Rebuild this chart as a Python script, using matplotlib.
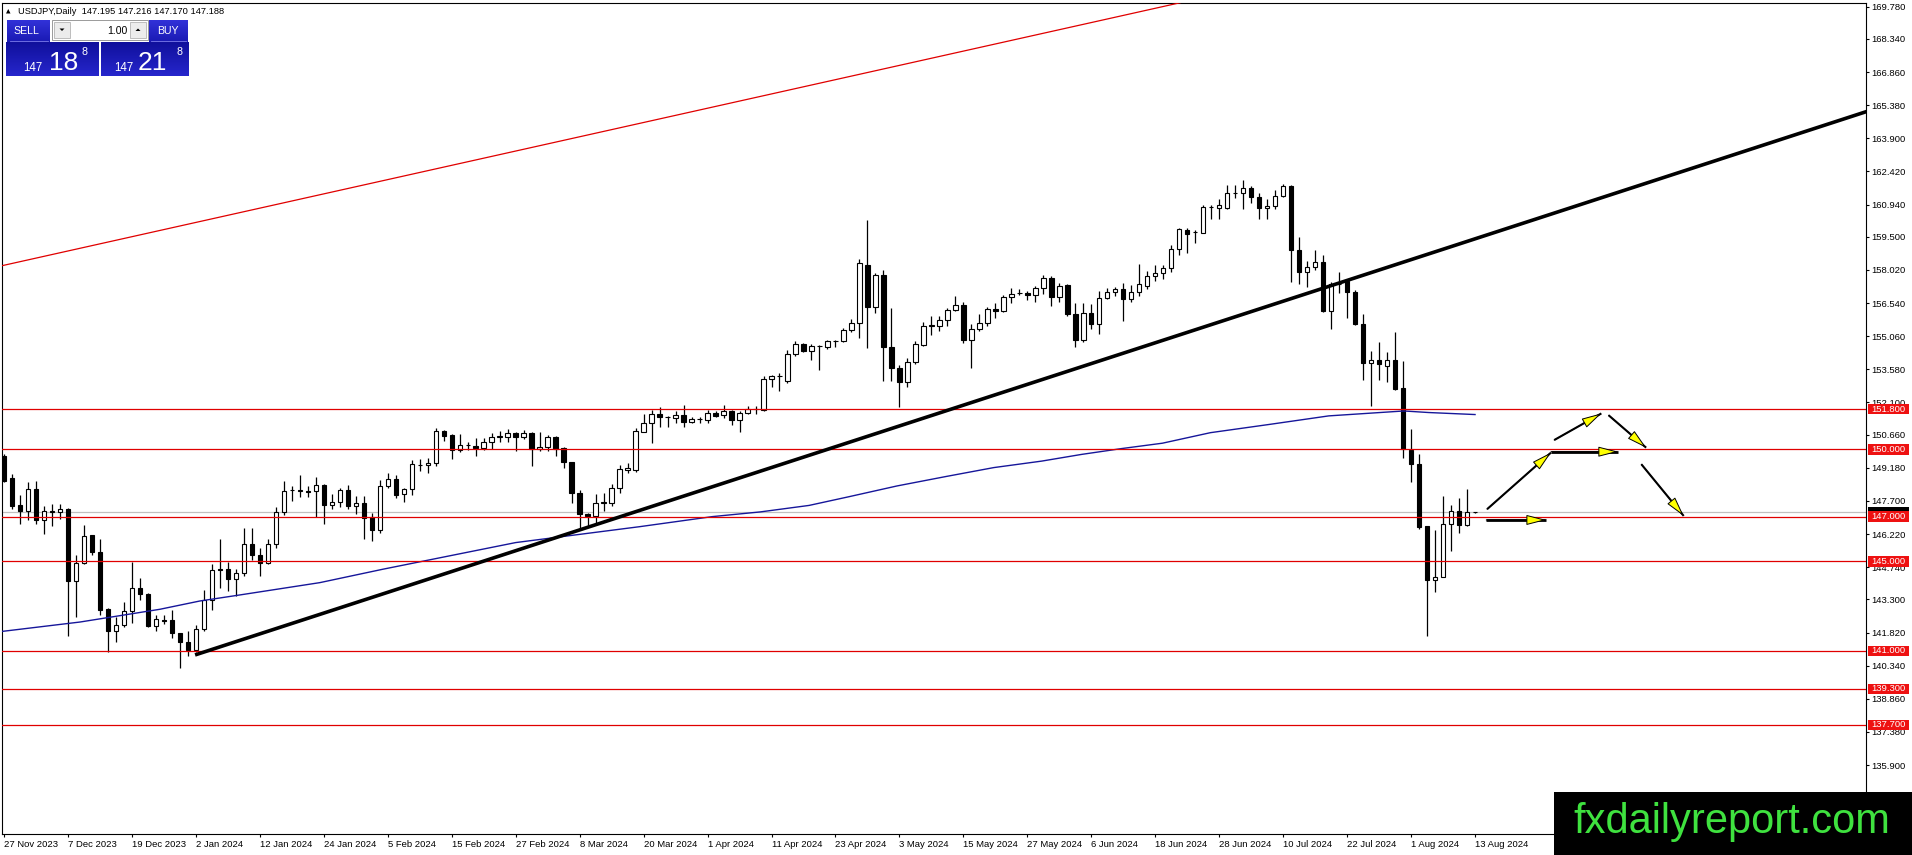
import numpy as np
import matplotlib
matplotlib.use('Agg')
import matplotlib.pyplot as plt
from matplotlib.patches import Rectangle, Polygon, FancyArrowPatch
from matplotlib.transforms import blended_transform_factory
from matplotlib.colors import LinearSegmentedColormap

plt.rcParams['font.family'] = ['Liberation Sans', 'DejaVu Sans']

W, H = 1912, 855

# daily bars, 27 Nov 2023 .. 13 Aug 2024
opens = [
    149.73, 148.71, 147.51, 147.26, 148.22, 146.84, 147.20, 147.19, 147.34, 144.12,
    144.94, 146.17, 145.43, 142.89, 141.87, 142.17, 142.77, 143.82, 143.56, 142.10,
    142.40, 142.40, 141.80, 141.39, 141.05, 141.98, 143.26, 144.65, 144.67, 144.22,
    144.49, 145.76, 145.30, 144.94, 145.76, 147.19, 148.18, 148.15, 148.15, 148.14,
    148.40, 147.51, 147.67, 148.18, 147.48, 147.63, 147.00, 146.40, 148.37, 148.70,
    148.00, 148.22, 149.31, 149.30, 149.39, 150.81, 150.64, 149.97, 150.20, 150.15,
    150.06, 150.33, 150.55, 150.55, 150.75, 150.55, 150.73, 150.03, 150.10, 150.55,
    150.06, 149.43, 148.07, 147.10, 147.03, 147.63, 147.63, 148.30, 149.10, 149.08,
    150.80, 151.17, 151.58, 151.45, 151.40, 151.52, 151.22, 151.34, 151.30, 151.62,
    151.52, 151.70, 151.32, 151.62, 151.80, 151.77, 153.14, 153.30, 153.04, 154.28,
    154.71, 154.38, 154.63, 154.60, 154.83, 154.83, 155.32, 155.65, 158.26, 156.35,
    157.81, 154.58, 153.64, 153.00, 153.89, 154.68, 155.52, 155.50, 155.77, 156.23,
    156.44, 154.89, 155.40, 155.63, 156.29, 156.19, 156.83, 156.98, 157.00, 156.90,
    157.20, 157.68, 156.83, 157.33, 156.07, 154.89, 156.11, 155.62, 156.78, 157.05,
    157.15, 156.74, 157.05, 157.30, 157.75, 157.90, 158.12, 158.97, 159.79, 159.70,
    159.69, 160.84, 160.81, 160.81, 161.48, 161.48, 161.70, 161.28, 160.78, 160.87,
    161.34, 161.76, 158.91, 157.94, 158.13, 158.39, 156.19, 157.40, 157.54, 157.04,
    155.60, 153.88, 153.99, 153.73, 154.00, 152.76, 149.97, 149.37, 146.57, 144.15,
    144.30, 146.67, 147.24, 146.61, 147.195]
highs = [
    149.80, 148.90, 147.96, 148.56, 148.60, 147.48, 147.56, 147.56, 147.40, 145.27,
    146.62, 146.20, 145.99, 142.92, 142.50, 143.19, 144.97, 144.24, 143.60, 142.62,
    142.62, 142.84, 141.82, 141.90, 142.17, 143.74, 144.87, 146.02, 144.97, 144.67,
    146.47, 146.47, 145.61, 145.99, 147.41, 148.61, 148.38, 148.86, 148.38, 148.76,
    148.45, 148.00, 148.30, 148.40, 147.93, 147.93, 147.18, 148.64, 148.94, 148.85,
    148.30, 149.52, 149.57, 149.60, 150.96, 150.88, 150.68, 150.70, 150.33, 150.49,
    150.51, 150.73, 150.82, 150.93, 150.78, 150.88, 150.76, 150.76, 150.64, 150.58,
    150.09, 149.45, 148.19, 147.18, 148.03, 148.04, 148.45, 149.30, 149.39, 150.94,
    151.59, 151.77, 151.89, 151.50, 151.70, 151.99, 151.47, 151.47, 151.77, 151.70,
    151.99, 151.77, 151.70, 151.95, 151.92, 153.26, 153.34, 153.41, 154.46, 154.83,
    154.76, 154.71, 154.68, 154.87, 154.90, 155.43, 155.83, 158.49, 160.23, 157.89,
    158.04, 156.32, 153.79, 154.08, 154.83, 155.68, 155.95, 155.95, 156.32, 156.86,
    156.60, 155.59, 156.04, 156.38, 156.53, 156.89, 157.23, 157.18, 157.08, 157.30,
    157.78, 157.75, 157.42, 157.38, 156.53, 156.53, 156.48, 157.08, 157.23, 157.27,
    157.45, 157.33, 158.30, 157.97, 158.23, 158.23, 159.12, 159.91, 159.91, 159.79,
    160.91, 160.91, 161.18, 161.82, 161.82, 162.03, 161.75, 161.45, 161.19, 161.57,
    161.87, 161.82, 159.48, 158.43, 158.91, 158.69, 157.49, 157.91, 157.61, 157.13,
    156.04, 154.40, 154.78, 154.36, 155.27, 153.93, 150.93, 149.81, 146.60, 146.39,
    147.94, 147.54, 147.84, 148.25, 147.216]
lows = [
    148.53, 147.33, 146.69, 146.86, 146.66, 146.24, 146.59, 146.90, 141.65, 142.50,
    144.87, 145.30, 142.62, 140.97, 141.42, 142.07, 142.25, 143.29, 142.07, 141.87,
    142.20, 141.57, 140.22, 140.78, 140.97, 141.87, 142.84, 143.82, 143.67, 143.44,
    144.34, 145.06, 144.34, 144.87, 145.61, 147.07, 147.70, 147.86, 147.86, 147.00,
    146.66, 147.33, 147.45, 147.33, 147.10, 146.01, 145.91, 146.28, 148.30, 147.85,
    147.66, 147.97, 149.06, 148.97, 149.27, 150.39, 149.57, 149.87, 149.96, 149.72,
    149.96, 150.03, 150.33, 150.33, 149.91, 150.45, 149.25, 149.91, 149.91, 149.72,
    149.15, 147.63, 146.43, 146.58, 146.66, 147.25, 147.48, 148.04, 148.94, 149.00,
    150.76, 150.28, 151.00, 151.02, 151.17, 151.02, 151.17, 151.17, 151.17, 151.44,
    151.40, 151.10, 150.80, 151.59, 151.59, 151.70, 152.78, 152.59, 152.99, 154.16,
    154.34, 153.98, 153.56, 154.49, 154.58, 154.79, 155.23, 154.98, 154.53, 156.10,
    153.04, 153.04, 151.89, 152.81, 153.83, 154.61, 155.13, 155.28, 155.53, 156.19,
    154.74, 153.62, 155.29, 155.52, 155.89, 156.14, 156.56, 156.89, 156.68, 156.59,
    156.93, 156.41, 156.59, 155.96, 154.58, 154.80, 155.40, 155.17, 156.74, 156.86,
    155.74, 156.59, 156.86, 157.19, 157.53, 157.63, 157.93, 158.67, 158.79, 159.24,
    159.66, 160.28, 160.28, 160.73, 161.25, 160.76, 160.99, 160.31, 160.30, 160.75,
    161.27, 157.46, 157.39, 157.24, 158.03, 156.12, 155.40, 156.99, 155.88, 155.55,
    153.10, 151.94, 153.10, 153.01, 152.66, 149.63, 148.54, 146.46, 141.67, 143.61,
    144.30, 145.45, 146.27, 146.57, 147.170]
closes = [
    148.60, 147.48, 147.26, 148.22, 146.84, 147.25, 147.27, 147.34, 144.12, 144.94,
    146.14, 145.42, 142.84, 141.87, 142.17, 142.77, 143.82, 143.56, 142.10, 142.43,
    142.35, 141.80, 141.39, 141.05, 141.98, 143.26, 144.61, 144.60, 144.22, 144.49,
    145.76, 145.27, 144.94, 145.76, 147.19, 148.16, 148.17, 148.17, 148.12, 148.40,
    147.51, 147.67, 148.19, 147.48, 147.63, 146.96, 146.40, 148.37, 148.70, 147.96,
    148.22, 149.33, 149.29, 149.39, 150.81, 150.61, 149.97, 150.21, 150.18, 150.06,
    150.33, 150.55, 150.58, 150.73, 150.55, 150.73, 150.03, 150.13, 150.55, 150.03,
    149.43, 148.07, 147.10, 147.03, 147.63, 147.66, 148.30, 149.12, 149.15, 150.84,
    151.17, 151.59, 151.44, 151.43, 151.55, 151.22, 151.35, 151.35, 151.62, 151.50,
    151.70, 151.30, 151.62, 151.81, 151.82, 153.14, 153.29, 153.29, 154.28, 154.71,
    154.38, 154.64, 154.64, 154.83, 154.84, 155.32, 155.65, 158.34, 156.35, 157.81,
    154.58, 153.64, 153.00, 153.89, 154.73, 155.53, 155.54, 155.80, 156.22, 156.44,
    154.89, 155.40, 155.66, 156.29, 156.19, 156.83, 156.96, 156.97, 156.89, 157.20,
    157.68, 156.83, 157.30, 156.04, 154.89, 156.11, 155.62, 156.78, 157.05, 157.15,
    156.74, 157.05, 157.41, 157.75, 157.90, 158.12, 158.97, 159.84, 159.64, 159.72,
    160.85, 160.83, 160.91, 161.48, 161.47, 161.70, 161.28, 160.81, 160.87, 161.34,
    161.76, 158.91, 157.94, 158.13, 158.39, 156.19, 157.39, 157.39, 157.04, 155.60,
    153.88, 153.99, 153.81, 154.00, 152.72, 150.00, 149.36, 146.52, 144.15, 144.30,
    146.67, 147.24, 146.61, 147.21, 147.188]

# moving average, sampled along the blue curve (bar index, price)
ma_x = [-0.5, 9.5, 19.5, 24.5, 29.5, 39.5, 47.4, 64.0, 79.5, 88.6, 94.6, 100.7,
        105.7, 111.7, 117.8, 123.8, 129.8, 134.8, 139.8, 144.9, 150.9, 158.3,
        165.7, 175.1, 178.2, 184.0]
ma_y = [141.86, 142.29, 142.86, 143.23, 143.50, 144.05, 144.65, 145.84, 146.55,
        147.00, 147.21, 147.50, 147.89, 148.37, 148.79, 149.19, 149.48, 149.78,
        150.04, 150.28, 150.75, 151.12, 151.50, 151.72, 151.65, 151.56]

date_idx = list(range(0, 185, 8))
date_labels = ['27 Nov 2023', '7 Dec 2023', '19 Dec 2023', '2 Jan 2024', '12 Jan 2024',
               '24 Jan 2024', '5 Feb 2024', '15 Feb 2024', '27 Feb 2024', '8 Mar 2024',
               '20 Mar 2024', '1 Apr 2024', '11 Apr 2024', '23 Apr 2024', '3 May 2024',
               '15 May 2024', '27 May 2024', '6 Jun 2024', '18 Jun 2024', '28 Jun 2024',
               '10 Jul 2024', '22 Jul 2024', '1 Aug 2024', '13 Aug 2024']

price_ticks = [169.78, 168.34, 166.86, 165.38, 163.90, 162.42, 160.94, 159.50,
               158.02, 156.54, 155.06, 153.58, 152.10, 150.66, 149.18, 147.70,
               146.22, 144.74, 143.30, 141.82, 140.34, 138.86, 137.38, 135.90]

levels = [151.8, 150.0, 147.0, 145.0, 141.0, 139.3, 137.7]
bid = 147.188

# trend lines: two points each (bar index, price)
black_trend = [(23.9, 140.82), (157.3, 156.31)]
red_trend = [(-0.5, 158.19), (147.0, 169.95)]

# hand drawn arrows (start, end)
arrow_start = [(185.4, 146.85), (185.5, 147.33), (193.5, 149.90),
               (193.9, 150.42), (200.7, 151.53), (204.8, 149.34)]
arrow_end = [(192.9, 146.85), (193.5, 149.86), (201.9, 149.90),
             (199.8, 151.61), (205.4, 150.08), (210.1, 147.03)]
arrow_lw = [2.0, 1.5, 2.0, 1.5, 1.5, 1.5]

fig = plt.figure(figsize=(W / 100, H / 100), dpi=100)
fig.patch.set_facecolor('white')
ax = fig.add_axes([2 / W, (H - 834) / H, 1864 / W, (834 - 2.7) / H])
ax.set_xlim(-0.25, 232.9)
ax.set_ylim(132.82, 169.96)

o = np.array(opens)
hi = np.array(highs)
lo = np.array(lows)
c = np.array(closes)
x = np.arange(len(o))
up = c > o

ax.axhline(bid, color='#c0c0c0', lw=0.9, zorder=1)
ax.vlines(x, lo, hi, color='black', lw=0.9, zorder=3)
ax.bar(x, np.abs(c - o), bottom=np.minimum(o, c), width=0.55,
       color=np.where(up, 'white', 'black'), edgecolor='black', lw=0.8, zorder=3.5)

ax.plot(ma_x, ma_y, color='#16169a', lw=1.0, zorder=4)

for lv in levels:
    ax.axhline(lv, color='#e00000', lw=0.9, zorder=4)

# black trend ray to the right edge
(bx0, by0), (bx1, by1) = black_trend
slope = (by1 - by0) / (bx1 - bx0)
ax.plot([bx0, 240], [by0, by0 + slope * (240 - bx0)], color='black', lw=2.6,
        solid_capstyle='butt', zorder=5)
ax.axline(red_trend[0], red_trend[1], color='#e00000', lw=0.9, zorder=4)

for (x0, y0), (x1, y1), lw in zip(arrow_start, arrow_end, arrow_lw):
    ax.plot([x0, x1], [y0, y1], color='black', lw=lw, solid_capstyle='butt', zorder=6)
    ax.add_patch(FancyArrowPatch((x0, y0), (x1, y1),
                                 arrowstyle='-|>,head_length=12.5,head_width=3.2',
                                 mutation_scale=1, lw=0.7, edgecolor='black',
                                 facecolor='#ffff00', shrinkA=0, shrinkB=0, zorder=7))

# axes, ticks
for sp in ax.spines.values():
    sp.set_linewidth(0.8)
    sp.set_color('black')
ax.yaxis.tick_right()
ax.set_yticks(price_ticks)
ax.set_yticklabels(['%.3f' % v for v in price_ticks])
ax.tick_params(axis='y', direction='out', length=2.5, width=0.8, pad=1.5,
               labelsize=6.8, colors='black')
ax.set_xticks(date_idx)
ax.set_xticklabels(date_labels, ha='left')
ax.tick_params(axis='x', direction='out', length=2.5, width=0.8, pad=1.5,
               labelsize=6.8, colors='black')

# price labels on the scale (current bid box sits mostly behind the 147 label)
tr = blended_transform_factory(ax.transAxes, ax.transData)
lab_x0, lab_x1, half = 1.0009, 1.0229, 0.23
ax.add_patch(Rectangle((lab_x0, bid - half), lab_x1 - lab_x0, 2 * half, transform=tr,
                       facecolor='black', edgecolor='none', clip_on=False, zorder=8))
for lv in levels:
    ax.add_patch(Rectangle((lab_x0, lv - half), lab_x1 - lab_x0, 2 * half, transform=tr,
                           facecolor='#ee1111', edgecolor='none', clip_on=False, zorder=9))
    ax.text((lab_x0 + lab_x1) / 2, lv, '%.3f' % lv, transform=tr, color='white',
            fontsize=6.8, ha='center', va='center', clip_on=False, zorder=9.5)

# overlay in pixel units: trade panel, header, watermark
ov = fig.add_axes([0, 0, 1, 1], zorder=10)
ov.patch.set_alpha(0)


def grad(x0, y0, x1, y1, top, bot):
    cmap = LinearSegmentedColormap.from_list('g', [top, bot])
    ov.imshow(np.linspace(0, 1, 32).reshape(-1, 1), cmap=cmap,
              extent=[x0, x1, y1, y0], aspect='auto', zorder=1)


ov.add_patch(Polygon([(6, 13.5), (10.5, 13.5), (8.25, 9)], closed=True,
                     facecolor='black', edgecolor='none'))
ov.text(18, 11, 'USDJPY,Daily  147.195 147.216 147.170 147.188', fontsize=6.7,
        ha='left', va='center', color='black')

grad(7, 20, 50, 42, '#3232d8', '#1a1ab4')
grad(149, 20, 188, 42, '#3232d8', '#1a1ab4')
grad(6, 42, 99, 76, '#10109c', '#2626cc')
grad(101, 42, 189, 76, '#10109c', '#2626cc')
ov.plot([10, 48], [41.5, 41.5], color='#7a7ae8', lw=0.6)
ov.plot([151, 186], [41.5, 41.5], color='#7a7ae8', lw=0.6)
ov.text(26, 31, 'SELL', color='white', fontsize=7.6, ha='center', va='center')
ov.text(168, 31, 'BUY', color='white', fontsize=7.6, ha='center', va='center')

ov.add_patch(Rectangle((52, 20), 96, 20, facecolor='white', edgecolor='#9a9a9a', lw=0.7))
ov.add_patch(Rectangle((54, 22), 16, 16, facecolor='#ececec', edgecolor='#b4b4b4', lw=0.6))
ov.add_patch(Rectangle((130, 22), 16, 16, facecolor='#ececec', edgecolor='#b4b4b4', lw=0.6))
ov.add_patch(Polygon([(59.5, 28.5), (64.5, 28.5), (62, 31)], closed=True,
                     facecolor='black', edgecolor='none'))
ov.add_patch(Polygon([(135.5, 31), (140.5, 31), (138, 28.5)], closed=True,
                     facecolor='black', edgecolor='none'))
ov.text(127, 30.5, '1.00', color='black', fontsize=7.6, ha='right', va='center')

ov.text(33, 71, '147', color='white', fontsize=8.3, ha='center', va='baseline')
ov.text(64, 70.5, '18', color='white', fontsize=19, ha='center', va='baseline')
ov.text(85, 55, '8', color='white', fontsize=7.7, ha='center', va='baseline')
ov.text(123.5, 71, '147', color='white', fontsize=8.3, ha='center', va='baseline')
ov.text(152, 70.5, '21', color='white', fontsize=19, ha='center', va='baseline')
ov.text(180, 55, '8', color='white', fontsize=7.7, ha='center', va='baseline')

ov.add_patch(Rectangle((1554, 791.7), W - 1554, H - 791.7, facecolor='black',
                       edgecolor='none', zorder=2))
ov.text(1732, 832.5, 'fxdailyreport.com', color='#3fe23f', fontsize=30,
        ha='center', va='baseline', zorder=3)

ov.set_xlim(0, W)
ov.set_ylim(H, 0)
ov.axis('off')

fig.savefig('out.png', dpi=100)
